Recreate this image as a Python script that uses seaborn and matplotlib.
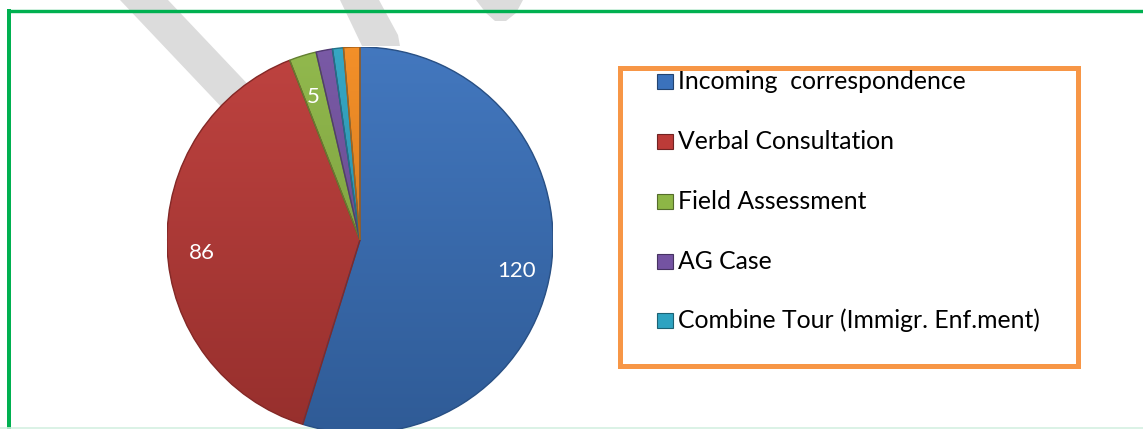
import numpy as np
import pandas as pd
import seaborn as sns
import matplotlib
matplotlib.use("Agg")
import matplotlib.pyplot as plt
from matplotlib.patches import Rectangle, Polygon, Wedge
from matplotlib.colors import to_rgb

# ---------------- data ----------------
categories = ["Incoming  correspondence", "Verbal Consultation", "Field Assessment",
              "AG Case", "Combine Tour (Immigr. Enf.ment)", "Other"]
values = [120, 86, 5, 3, 2, 3]
show_value = [True, True, True, False, False, False]
legend_count = 5
colors = ["#3B72BC", "#BC3B38", "#8DB646", "#7453A2", "#2EA3C1", "#F38B20"]

df = pd.DataFrame({"category": categories, "value": values, "color": colors})

# ---------------- style ----------------
sns.set_theme(style="white")
plt.rcParams["font.family"] = ["Lato", "DejaVu Sans"]

W, H = 1143, 429
fig = plt.figure(figsize=(W / 100, H / 100), dpi=100)
fig.patch.set_facecolor("white")

# background/overlay axes in pixel coordinates
bg = fig.add_axes([0, 0, 1, 1], zorder=0)
bg.set_xlim(0, W)
bg.set_ylim(H, 0)
bg.axis("off")

# watermark strokes (light gray)
wm = [
    [(120, 0), (168, 0), (329, 170), (281, 170)],
    [(340, 0), (379, 0), (398, 35), (400, 46), (362, 46), (352, 25)],
    [(476, 0), (523, 0), (516, 13), (506, 21), (495, 21), (486, 13)],
]
for pts in wm:
    bg.add_patch(Polygon(pts, closed=True, fc="#DCDCDC", ec="none"))

# green frame
px = 0.72
bg.plot([9.3, 9.3], [9, H], color="#00B050", lw=4 * px, solid_capstyle="butt")
bg.plot([7.5, W], [10.7, 10.7], color="#00B050", lw=3.4 * px, solid_capstyle="butt")
bg.plot([0, W], [428.3, 428.3], color="#D3F0E0", lw=1.6 * px)

# legend box
bg.add_patch(Rectangle((620, 67.5), 1077.5 - 620, 365.5 - 67.5, fill=False,
                       ec="#F79646", lw=5 * px))

# ---------------- pie ----------------
cx, cy, r = 360, 240, 193
ax = fig.add_axes([(cx - r) / W, (H - cy - r) / H, 2 * r / W, 2 * r / H], zorder=1)
wedges, _ = ax.pie(df["value"], colors=df["color"], startangle=90, counterclock=False,
                   radius=1.0, wedgeprops=dict(linewidth=0.6, edgecolor="#FFFFFF55"))

# vertical shading gradient clipped to each wedge (imitates the bevel look)
t = np.linspace(0, 1, 256)[:, None, None]
for w, c in zip(wedges, colors):
    base = np.array(to_rgb(c))
    top = base + (1 - base) * 0.04
    bot = base * 0.80
    grad = top * (1 - t) + bot * t
    im = ax.imshow(grad, extent=(-1, 1, -1, 1), origin="upper", aspect="auto",
                   interpolation="bilinear", zorder=2)
    im.set_clip_path(w)
    w.set_zorder(1)

# darker rim
for w, c in zip(wedges, colors):
    ax.add_patch(Wedge(w.center, w.r, w.theta1, w.theta2, fill=False,
                       ec=np.array(to_rgb(c)) * 0.7, lw=1.0, zorder=3))

for w, v, s in zip(wedges, values, show_value):
    if not s:
        continue
    ang = np.deg2rad((w.theta1 + w.theta2) / 2)
    rr = 0.82
    ax.text(rr * np.cos(ang), rr * np.sin(ang) - 0.04, str(v), color="white",
            fontsize=16, ha="center", va="center", zorder=4)

ax.set_xlim(-1, 1)
ax.set_ylim(-1, 1)
ax.axis("off")

# ---------------- legend ----------------
baselines = [89, 149, 209, 269, 328]
for i in range(legend_count):
    yb = baselines[i]
    bg.add_patch(Rectangle((657, yb - 15), 16, 15, fc=colors[i],
                           ec=np.array(to_rgb(colors[i])) * 0.6, lw=0.8, zorder=5))
    bg.text(678, yb, categories[i], fontsize=17.8, color="black",
            ha="left", va="baseline", zorder=5)

fig.savefig("out.png", dpi=100, facecolor="white")
